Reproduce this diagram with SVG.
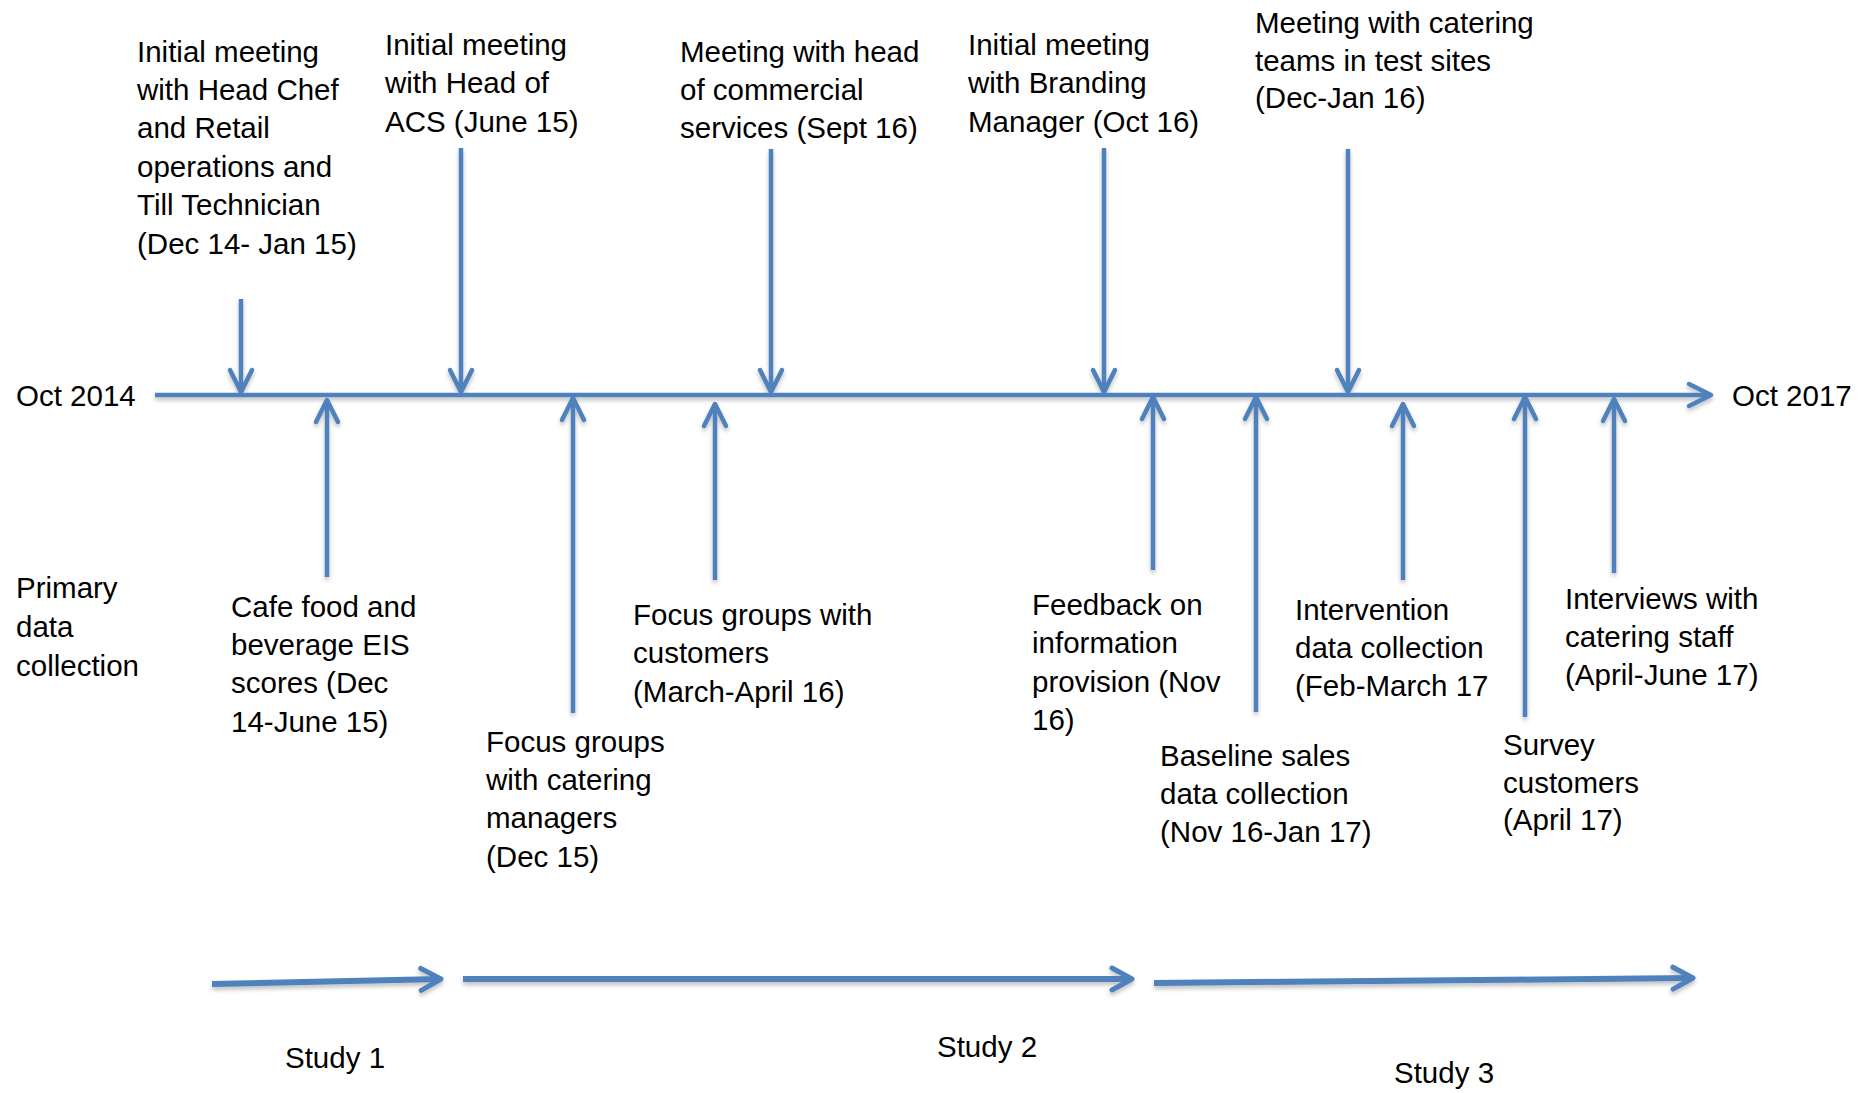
<svg xmlns="http://www.w3.org/2000/svg" width="1872" height="1093" viewBox="0 0 1872 1093">
  <style>
    text { font-family: "Liberation Sans", Arial, sans-serif; font-size: 29.5px; fill: #000; }
    .ln { stroke: #4F81BD; stroke-width: 4.5; fill: none; }
    .st { stroke: #4F81BD; stroke-width: 6; fill: none; }
  </style>
  <defs>
    <filter id="sh" x="-5%" y="-50%" width="110%" height="200%">
      <feDropShadow dx="0" dy="3" stdDeviation="2" flood-color="#000" flood-opacity="0.25"/>
    </filter>
    <marker id="ah" markerUnits="userSpaceOnUse" viewBox="-30 -16 36 32" refX="0" refY="0" markerWidth="36" markerHeight="32" orient="auto" overflow="visible">
      <path d="M-22,-11 L0,0 L-22,11" fill="none" stroke="#4F81BD" stroke-width="4.5" stroke-linecap="round" stroke-linejoin="round"/>
    </marker>
    <marker id="ahs" markerUnits="userSpaceOnUse" viewBox="-30 -16 36 32" refX="0" refY="0" markerWidth="36" markerHeight="32" orient="auto" overflow="visible">
      <path d="M-20,-11 L0,0 L-20,11" fill="none" stroke="#4F81BD" stroke-width="5" stroke-linecap="round" stroke-linejoin="round"/>
    </marker>
  </defs>
  <rect width="1872" height="1093" fill="#fff"/>

  <g id="connectors" filter="url(#sh)">
    <!-- main timeline -->
    <line class="ln" x1="155" y1="395" x2="1711" y2="395" marker-end="url(#ah)"/>
    <!-- downward arrows -->
    <line class="ln" x1="241" y1="299" x2="241" y2="392" marker-end="url(#ah)"/>
    <line class="ln" x1="461" y1="148" x2="461" y2="392" marker-end="url(#ah)"/>
    <line class="ln" x1="771" y1="149" x2="771" y2="392" marker-end="url(#ah)"/>
    <line class="ln" x1="1104" y1="148" x2="1104" y2="392" marker-end="url(#ah)"/>
    <line class="ln" x1="1348" y1="149" x2="1348" y2="392" marker-end="url(#ah)"/>
    <!-- upward arrows -->
    <line class="ln" x1="327" y1="577" x2="327" y2="400" marker-end="url(#ah)"/>
    <line class="ln" x1="573" y1="713" x2="573" y2="398" marker-end="url(#ah)"/>
    <line class="ln" x1="715" y1="580" x2="715" y2="404" marker-end="url(#ah)"/>
    <line class="ln" x1="1153" y1="570" x2="1153" y2="397" marker-end="url(#ah)"/>
    <line class="ln" x1="1256" y1="712" x2="1256" y2="397" marker-end="url(#ah)"/>
    <line class="ln" x1="1403" y1="580" x2="1403" y2="404" marker-end="url(#ah)"/>
    <line class="ln" x1="1525" y1="717" x2="1525" y2="397" marker-end="url(#ah)"/>
    <line class="ln" x1="1614" y1="573" x2="1614" y2="399" marker-end="url(#ah)"/>
    <!-- study arrows -->
    <line class="st" x1="212" y1="984" x2="441" y2="979" marker-end="url(#ahs)"/>
    <line class="st" x1="463" y1="979" x2="1132" y2="979" marker-end="url(#ahs)"/>
    <line class="st" x1="1154" y1="983" x2="1693" y2="978" marker-end="url(#ahs)"/>
  </g>

  <g id="oct2014"><text x="16" y="406">Oct 2014</text></g>
  <g id="oct2017"><text x="1732" y="406">Oct 2017</text></g>
  <g id="primary"><text x="16" y="598">Primary</text><text x="16" y="637">data</text><text x="16" y="676">collection</text></g>

  <g id="n-headchef">
    <text x="137" y="62">Initial meeting</text>
    <text x="137" y="100">with Head Chef</text>
    <text x="137" y="138">and Retail</text>
    <text x="137" y="177">operations and</text>
    <text x="137" y="215">Till Technician</text>
    <text x="137" y="254">(Dec 14- Jan 15)</text>
  </g>
  <g id="n-acs">
    <text x="385" y="55">Initial meeting</text>
    <text x="385" y="93">with Head of</text>
    <text x="385" y="132">ACS (June 15)</text>
  </g>
  <g id="n-commercial">
    <text x="680" y="62">Meeting with head</text>
    <text x="680" y="100">of commercial</text>
    <text x="680" y="138">services (Sept 16)</text>
  </g>
  <g id="n-branding">
    <text x="968" y="55">Initial meeting</text>
    <text x="968" y="93">with Branding</text>
    <text x="968" y="132">Manager (Oct 16)</text>
  </g>
  <g id="n-catering-teams">
    <text x="1255" y="33">Meeting with catering</text>
    <text x="1255" y="71">teams in test sites</text>
    <text x="1255" y="108">(Dec-Jan 16)</text>
  </g>

  <g id="n-cafe">
    <text x="231" y="617">Cafe food and</text>
    <text x="231" y="655">beverage EIS</text>
    <text x="231" y="693">scores (Dec</text>
    <text x="231" y="732">14-June 15)</text>
  </g>
  <g id="n-focus-managers">
    <text x="486" y="752">Focus groups</text>
    <text x="486" y="790">with catering</text>
    <text x="486" y="828">managers</text>
    <text x="486" y="867">(Dec 15)</text>
  </g>
  <g id="n-focus-customers">
    <text x="633" y="625">Focus groups with</text>
    <text x="633" y="663">customers</text>
    <text x="633" y="702">(March-April 16)</text>
  </g>
  <g id="n-feedback">
    <text x="1032" y="615">Feedback on</text>
    <text x="1032" y="653">information</text>
    <text x="1032" y="692">provision (Nov</text>
    <text x="1032" y="730">16)</text>
  </g>
  <g id="n-baseline">
    <text x="1160" y="766">Baseline sales</text>
    <text x="1160" y="804">data collection</text>
    <text x="1160" y="842">(Nov 16-Jan 17)</text>
  </g>
  <g id="n-intervention">
    <text x="1295" y="620">Intervention</text>
    <text x="1295" y="658">data collection</text>
    <text x="1295" y="696">(Feb-March 17</text>
  </g>
  <g id="n-survey">
    <text x="1503" y="755">Survey</text>
    <text x="1503" y="793">customers</text>
    <text x="1503" y="830">(April 17)</text>
  </g>
  <g id="n-interviews">
    <text x="1565" y="609">Interviews with</text>
    <text x="1565" y="647">catering staff</text>
    <text x="1565" y="685">(April-June 17)</text>
  </g>

  <g id="study1"><text x="285" y="1068">Study 1</text></g>
  <g id="study2"><text x="937" y="1057">Study 2</text></g>
  <g id="study3"><text x="1394" y="1083">Study 3</text></g>
</svg>
